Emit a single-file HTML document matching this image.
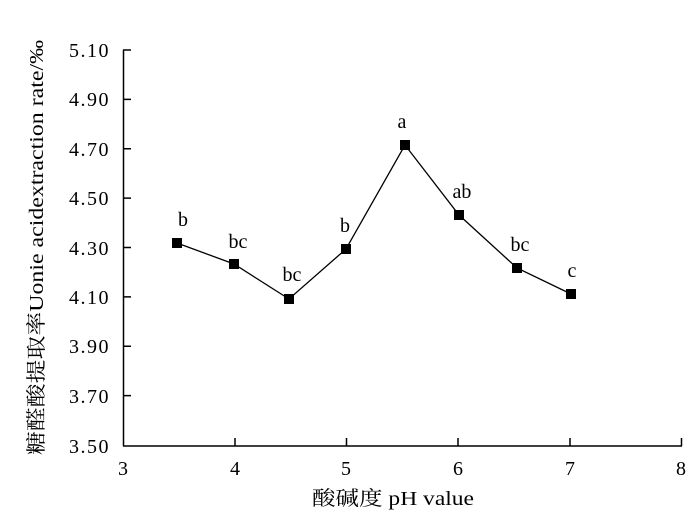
<!DOCTYPE html>
<html><head><meta charset="utf-8"><style>body{margin:0;background:#fff}</style></head><body>
<svg width="700" height="520" xmlns="http://www.w3.org/2000/svg" font-family="'Liberation Serif','Noto Serif CJK SC',serif" font-size="20">
<rect width="700" height="520" fill="#fff"/>
<g stroke="#000" stroke-width="1.5" fill="none">
<line x1="123.5" y1="50" x2="123.5" y2="446"/>
<line x1="123" y1="446" x2="682" y2="446"/>
<path d="M123 50h8M123 99.4h8M123 148.8h8M123 198.1h8M123 247.5h8M123 296.9h8M123 346.3h8M123 395.6h8"/>
<path d="M235 446v-8M346.5 446v-8M458 446v-8M570 446v-8M681.5 446v-8"/>
<polyline stroke-width="1.3" points="177,243 234,264 289,299 346,249 405,145 459,215 517,268 571,294"/>
</g>
<g fill="#000">
<rect x="172" y="238" width="10" height="10"/><rect x="229" y="259" width="10" height="10"/><rect x="284" y="294" width="10" height="10"/><rect x="341" y="244" width="10" height="10"/><rect x="400" y="140" width="10" height="10"/><rect x="454" y="210" width="10" height="10"/><rect x="512" y="263" width="10" height="10"/><rect x="566" y="289" width="10" height="10"/>
</g>
<g text-anchor="end" letter-spacing="1.5">
<text x="110" y="57">5.10</text><text x="110" y="106">4.90</text><text x="110" y="156">4.70</text><text x="110" y="205">4.50</text><text x="110" y="255">4.30</text><text x="110" y="304">4.10</text><text x="110" y="353">3.90</text><text x="110" y="403">3.70</text><text x="110" y="453">3.50</text>
</g>
<g text-anchor="middle">
<text x="123" y="475">3</text><text x="235" y="475">4</text><text x="346" y="475">5</text><text x="458" y="475">6</text><text x="570" y="475">7</text><text x="681" y="475">8</text>
<text x="183" y="226">b</text><text x="238" y="248">bc</text><text x="292" y="281">bc</text><text x="345" y="232">b</text><text x="402" y="128">a</text><text x="462" y="198">ab</text><text x="520" y="251">bc</text><text x="572" y="277">c</text>
</g>
<text x="312" y="505" textLength="162" lengthAdjust="spacingAndGlyphs">酸碱度 pH value</text>
<text transform="translate(43,455) rotate(-90)" textLength="415" lengthAdjust="spacingAndGlyphs">糖醛酸提取率Uonie acidextraction rate/‰</text>
</svg>
</body></html>
